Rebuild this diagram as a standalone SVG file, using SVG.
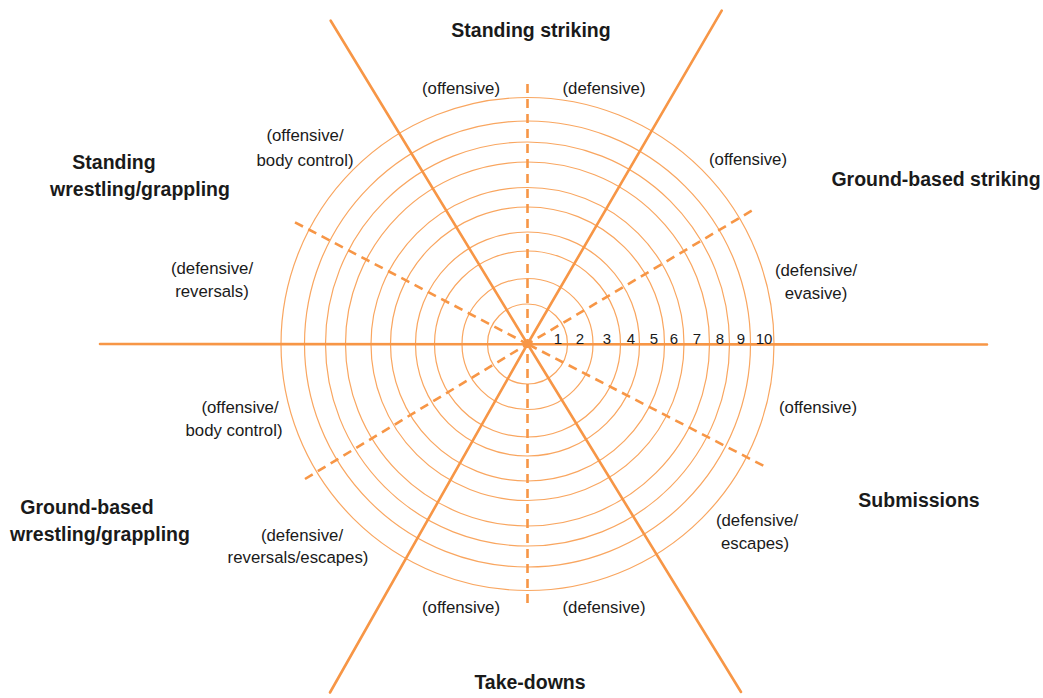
<svg xmlns="http://www.w3.org/2000/svg" width="1043" height="698" viewBox="0 0 1043 698">
<style>
.ring{fill:none;stroke:#F9A660;stroke-width:1.2}
.solid{stroke:#F79646;stroke-width:2.6;stroke-linecap:round}
.dash{stroke:#F79646;stroke-width:2.6;stroke-dasharray:9,6}
text{font-family:"Liberation Sans",Arial,sans-serif;fill:#1a1a1a;text-anchor:middle}
.h{font-weight:bold;font-size:19.5px}
.l{font-size:16.8px}
.n{font-size:15px}
</style>
<rect width="1043" height="698" fill="#fff"/>
<g id="rings">
<circle class="ring" cx="527.5" cy="344" r="40"/>
<circle class="ring" cx="527.5" cy="344" r="65.5"/>
<circle class="ring" cx="527.5" cy="344" r="93"/>
<circle class="ring" cx="527.5" cy="344" r="112"/>
<circle class="ring" cx="527.5" cy="344" r="137"/>
<circle class="ring" cx="527.5" cy="344" r="156.5"/>
<circle class="ring" cx="527.5" cy="344" r="182"/>
<circle class="ring" cx="527.5" cy="344" r="202"/>
<circle class="ring" cx="527.5" cy="344" r="223"/>
<circle class="ring" cx="527.5" cy="344" r="246.5"/>
</g>
<g id="connectors">
<line class="solid" x1="100" y1="344" x2="987" y2="344.5"/>
<line class="solid" x1="330.7" y1="20.7" x2="527.5" y2="344"/>
<line class="solid" x1="721.7" y1="10.7" x2="527.5" y2="344"/>
<line class="solid" x1="330" y1="692.5" x2="527.5" y2="344"/>
<line class="solid" x1="741" y1="692" x2="527.5" y2="344"/>
<line class="dash" x1="527.5" y1="84" x2="527.5" y2="606"/>
<line class="dash" x1="751.7" y1="210.7" x2="527.5" y2="344"/>
<line class="dash" x1="305" y1="479" x2="527.5" y2="344"/>
<line class="dash" x1="295" y1="222.3" x2="527.5" y2="344"/>
<line class="dash" x1="763.3" y1="465.7" x2="527.5" y2="344"/>
</g>
<g id="scale">
<text class="n" x="558" y="344">1</text>
<text class="n" x="580" y="344">2</text>
<text class="n" x="607" y="344">3</text>
<text class="n" x="631" y="344">4</text>
<text class="n" x="654" y="344">5</text>
<text class="n" x="674" y="344">6</text>
<text class="n" x="697" y="344">7</text>
<text class="n" x="720" y="344">8</text>
<text class="n" x="741" y="344">9</text>
<text class="n" x="764" y="344">10</text>
</g>
<g id="standing-striking">
<text class="h" x="531" y="37">Standing striking</text>
<text class="l" x="461" y="94">(offensive)</text>
<text class="l" x="604" y="94">(defensive)</text>
</g>
<g id="ground-striking">
<text class="h" x="936" y="186">Ground-based striking</text>
<text class="l" x="748" y="165">(offensive)</text>
<text class="l" x="816" y="276">(defensive/</text>
<text class="l" x="816" y="299">evasive)</text>
</g>
<g id="submissions">
<text class="h" x="919" y="507">Submissions</text>
<text class="l" x="818" y="413">(offensive)</text>
<text class="l" x="757" y="526">(defensive/</text>
<text class="l" x="755" y="549">escapes)</text>
</g>
<g id="take-downs">
<text class="h" x="530" y="689">Take-downs</text>
<text class="l" x="461" y="613">(offensive)</text>
<text class="l" x="604" y="613">(defensive)</text>
</g>
<g id="ground-wrestling">
<text class="h" x="87" y="514">Ground-based</text>
<text class="h" x="100" y="541">wrestling/grappling</text>
<text class="l" x="302" y="541">(defensive/</text>
<text class="l" x="298" y="563">reversals/escapes)</text>
<text class="l" x="240" y="413">(offensive/</text>
<text class="l" x="234" y="436">body control)</text>
</g>
<g id="standing-wrestling">
<text class="h" x="114" y="169">Standing</text>
<text class="h" x="140" y="196">wrestling/grappling</text>
<text class="l" x="305" y="141">(offensive/</text>
<text class="l" x="305" y="166">body control)</text>
<text class="l" x="212" y="274">(defensive/</text>
<text class="l" x="212" y="297">reversals)</text>
</g>
</svg>
